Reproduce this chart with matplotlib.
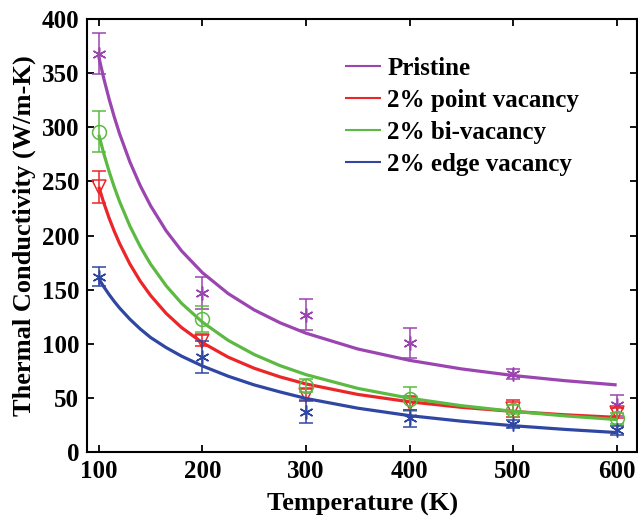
import numpy as np
import matplotlib
matplotlib.use("Agg")
import matplotlib.pyplot as plt

# measured points (K, W/m-K) with error bars
temps = [100, 200, 300, 400, 500, 600]
pristine = [368, 147, 127, 101, 72, 43]
pristine_err = [19, 15, 14, 14, 5, 10]
point_vac = [245, 103, 53, 45, 40, 36]
point_err = [15, 5, 5, 6, 8, 5]
bi_vac = [296, 123, 61, 49, 39, 31]
bi_err = [19, 12, 6, 11, 4, 5]
edge_vac = [162, 88, 37, 31, 26, 20]
edge_err = [9, 15, 10, 8, 4, 4]

# fitted curves
fit_T = [100, 105, 110, 115, 120, 130, 140, 150, 165, 180, 200, 225, 250,
         275, 300, 350, 400, 450, 500, 550, 600]
fit_pristine = [365.0, 344.4, 325.9, 309.3, 294.2, 268.0, 246.1, 227.5, 204.4,
                185.7, 165.7, 146.3, 131.3, 119.4, 109.8, 95.2, 84.7, 76.8,
                70.7, 65.9, 62.0]
fit_point = [245.0, 229.7, 216.0, 203.8, 192.8, 173.7, 157.9, 144.6, 128.1,
             114.9, 101.0, 87.6, 77.4, 69.4, 62.9, 53.2, 46.4, 41.3, 37.5,
             34.4, 32.0]
fit_bi = [293.0, 275.1, 259.0, 244.6, 231.5, 208.8, 189.8, 173.6, 153.6, 137.3,
          120.0, 103.1, 90.1, 79.8, 71.5, 58.8, 49.7, 42.8, 37.6, 33.4, 30.0]
fit_edge = [160.0, 152.4, 145.4, 139.0, 133.1, 122.7, 113.7, 105.8, 96.5, 88.5,
            79.5, 70.0, 62.0, 55.5, 49.5, 40.5, 33.6, 28.5, 24.3, 20.9, 18.0]

labels = ["Pristine", "2% point vacancy", "2% bi-vacancy", "2% edge vacancy"]
colors = ["#9A45B0", "#EC2529", "#5CBA42", "#2F47A2"]

asterisk = (6, 2, 0)
markers = [asterisk, "v", "o", asterisk]

plt.rcParams["font.family"] = ["Liberation Serif", "DejaVu Serif"]
plt.rcParams["font.weight"] = "bold"

fig = plt.figure(figsize=(6.38, 5.21), dpi=100)
ax = fig.add_axes([0.137, 0.1324, 0.862, 0.8311])

points = [(pristine, pristine_err), (point_vac, point_err),
          (bi_vac, bi_err), (edge_vac, edge_err)]
fits = [fit_pristine, fit_point, fit_bi, fit_edge]

for (vals, err), fit, lab, c, m in zip(points, fits, labels, colors, markers):
    ax.errorbar(temps, vals, yerr=err, fmt="none", ecolor=c, elinewidth=1.1,
                capsize=5, capthick=1.1)
    ax.plot(temps, vals, linestyle="none", marker=m, markersize=10,
            markerfacecolor="none", markeredgecolor=c, markeredgewidth=1.1)
    ax.plot(fit_T, fit, color=c, lw=2.3, label=lab, solid_capstyle="butt")

ax.set_xlim(89, 620)
ax.set_ylim(0, 400)
ax.set_xticks([100, 200, 300, 400, 500, 600])
ax.set_yticks(np.arange(0, 401, 50))
ax.tick_params(direction="in", length=5, width=1.3, labelsize=18,
               top=True, right=True, pad=6)
for s in ax.spines.values():
    s.set_linewidth(1.5)

ax.set_xlabel("Temperature (K)", fontsize=19, fontweight="bold", labelpad=7)
ax.set_ylabel("Thermal Conductivity (W/m-K)", fontsize=19, fontweight="bold",
              labelpad=4)

leg = ax.legend(loc="upper left", bbox_to_anchor=(0.468, 0.912), frameon=False,
                fontsize=18, handlelength=1.45, handletextpad=0.25,
                labelspacing=0.36, borderpad=0, borderaxespad=0)
for line in leg.get_lines():
    line.set_linewidth(1.5)

fig.savefig("out.png", dpi=100)
plt.close(fig)
